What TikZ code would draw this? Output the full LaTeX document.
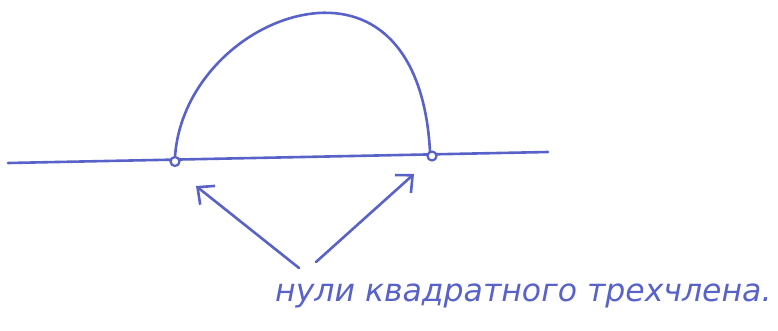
\documentclass[tikz,border=0pt]{standalone}
\usepackage{fontspec}
\newfontfamily\handfont{DejaVu Sans}
\usetikzlibrary{arrows.meta}
\definecolor{ink}{RGB}{88,98,200}
\tikzset{
  inkline/.style={draw=ink,line width=2.6pt,line cap=round,line join=round},
  zero/.style={circle,draw=ink,line width=2.2pt,inner sep=0pt,minimum size=9pt},
  pointer/.style={inkline,-{Straight Barb[length=13pt,width=24pt,line width=2.6pt]}}
}
\begin{document}
\begin{tikzpicture}[x=1pt,y=-1pt]
\useasboundingbox (0,0) rectangle (778,330);
\coordinate (L) at (8,163);
\coordinate (R) at (548,152);
\draw[inkline] (L) -- (R);
\coordinate (top) at (318,13);
\draw[inkline] (175,157) .. controls (180,80) and (250,18) .. (top)
  .. controls (380,9) and (425,55) .. (430,152);
\node[zero,fill=white] (z1) at (175,161.5) {};
\node[zero,fill=white] (z2) at (432,156) {};
\coordinate (a1) at (299,268);
\coordinate (t1) at (196,186);
\coordinate (a2) at (316,262);
\coordinate (t2) at (414,174);
\draw[pointer] (a1) -- (t1);
\draw[pointer] (a2) -- (t2);
\node[text=ink,anchor=base west,inner sep=0pt] (lbl) at (275,301)
  {\handfont\itshape\fontsize{31.5}{34}\selectfont нули квадратного трехчлена.};
\end{tikzpicture}
\end{document}
